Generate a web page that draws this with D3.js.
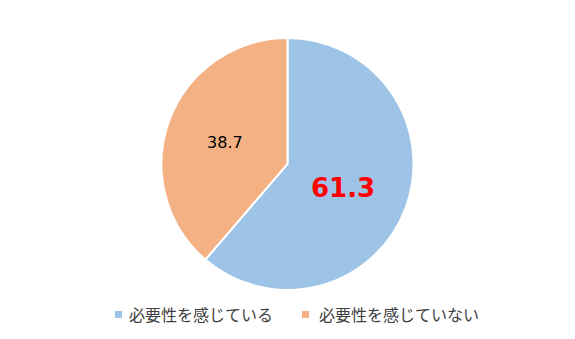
<!DOCTYPE html>
<html><head><meta charset="utf-8">
<script src="https://cdn.jsdelivr.net/npm/d3@7/dist/d3.min.js"></script>
<style>body{margin:0;background:#fff;}svg{display:block;}</style>
</head><body>
<svg id="c" width="575" height="339"></svg>
<script>
const categories = ["必要性を感じている", "必要性を感じていない"];
const values = [61.3, 38.7];
const colors = ["#9DC3E6", "#F4B183"];

const svg = d3.select("#c");
const cx = 287.5, cy = 164, r = 126;
const g = svg.append("g").attr("transform", `translate(${cx},${cy})`);
const pie = d3.pie().sort(null).value(d => d)(values);
const arc = d3.arc().innerRadius(0).outerRadius(r);
g.selectAll("path").data(pie).enter().append("path")
  .attr("d", arc).attr("fill", (d, i) => colors[i])
  .attr("stroke", "#fff").attr("stroke-width", 2);

const styles = [
  {size: 26, weight: "bold", fill: "#FF0000", rf: 0.47, dy: 3},
  {size: 16, weight: "normal", fill: "#000", rf: 0.53, dy: 2}
];
g.selectAll("text.lbl").data(pie).enter().append("text")
  .attr("class", "lbl")
  .attr("transform", (d, i) => {
    const a = d3.arc().innerRadius(r * styles[i].rf).outerRadius(r * styles[i].rf);
    const c = a.centroid(d);
    return `translate(${c[0]},${c[1] + styles[i].dy})`;
  })
  .attr("text-anchor", "middle").attr("dominant-baseline", "central")
  .attr("font-family", "'DejaVu Sans', sans-serif")
  .attr("font-size", (d, i) => styles[i].size)
  .attr("font-weight", (d, i) => styles[i].weight)
  .attr("fill", (d, i) => styles[i].fill)
  .text(d => d.data.toFixed(1));

const legendX = [115, 302];
const textOff = [14, 17];
const lg = svg.selectAll("g.leg").data(categories).enter().append("g")
  .attr("class", "leg").attr("transform", (d, i) => `translate(${legendX[i]},314)`);
lg.append("rect").attr("x", 0).attr("y", -3).attr("width", 7).attr("height", 7)
  .attr("fill", (d, i) => colors[i]);
lg.append("text").attr("x", (d, i) => textOff[i]).attr("y", 0).attr("dominant-baseline", "central")
  .attr("font-family", "'Noto Sans CJK JP', sans-serif").attr("font-size", 16)
  .attr("fill", "#404040").text(d => d);
</script>
</body></html>
